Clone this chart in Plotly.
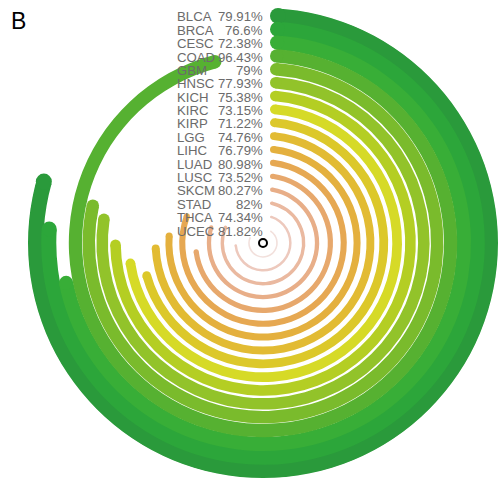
import math
import plotly.graph_objects as go

# ---- data ----
cancers = ["BLCA", "BRCA", "CESC", "COAD", "GBM", "HNSC", "KICH", "KIRC", "KIRP",
           "LGG", "LIHC", "LUAD", "LUSC", "SKCM", "STAD", "THCA", "UCEC"]
percent = [79.91, 76.6, 72.38, 96.43, 79, 77.93, 75.38, 73.15, 71.22,
           74.76, 76.79, 80.98, 73.52, 80.27, 82, 74.34, 81.82]
percent_labels = ["79.91%", "76.6%", "72.38%", "96.43%", "79%", "77.93%", "75.38%",
                  "73.15%", "71.22%", "74.76%", "76.79%", "80.98%", "73.52%",
                  "80.27%", "82%", "74.34%", "81.82%"]

# ---- style ----
palette = ["#2a9a3b", "#2ca63a", "#38ae37", "#56b131", "#7abb2c", "#92c32a",
           "#b4ce23", "#d6da27", "#dcc82a", "#e2bb33", "#e4b03e", "#e6a852",
           "#e7a86c", "#e8ae88", "#eab9a0", "#edc9bd", "#f2e0dc"]

W, H = 498, 479
CX, CY = 263, 243          # centre in px (from left / top)
R = 235                    # polar radius in px (1 unit = 1 px)
n = len(cancers)

xdom = [(CX - R) / W, (CX + R) / W]
ydom = [(H - CY - R) / H, (H - CY + R) / H]

def ring_radius(i):
    return 14 + 13.35 * (n - 1 - i)

def ring_width(i):
    return 16 - 0.9 * i

def label_y(i):
    return 12 + 13.375 * (n - 1 - i)

fig = go.Figure()

for i, (name, v) in enumerate(zip(cancers, percent)):
    r = ring_radius(i)
    t = ring_width(i)
    start = math.degrees(math.asin(min(1.0, (7 + t / 2) / r)))
    end = v * 3.6 - math.degrees(t / 2 / r)
    fig.add_trace(go.Barpolar(
        r=[t], base=[r - t / 2], theta=[(start + end) / 2], width=[end - start],
        marker=dict(color=palette[i], line=dict(width=0)),
        hoverinfo="skip", showlegend=False))
    fig.add_trace(go.Scatterpolar(
        r=[r, r], theta=[start, end], mode="markers",
        marker=dict(size=t, color=palette[i], line=dict(width=0)),
        hoverinfo="skip", showlegend=False))

# centre ring
fig.add_trace(go.Scatterpolar(
    r=[0], theta=[0], mode="markers",
    marker=dict(size=8, color="white", line=dict(color="black", width=2)),
    hoverinfo="skip", showlegend=False))

# invisible cartesian overlay used for label placement
fig.add_trace(go.Scatter(x=[-R, R], y=[-R, R], mode="markers",
                         marker=dict(opacity=0), hoverinfo="skip", showlegend=False))

lab_font = dict(family="Liberation Sans, Arial, sans-serif", size=13.2, color="#6b6b6b")
for i, (name, pl) in enumerate(zip(cancers, percent_labels)):
    y = label_y(i)
    fig.add_annotation(x=-86, y=y, xref="x", yref="y", text=name, showarrow=False,
                       xanchor="left", yanchor="middle", font=lab_font,
                       borderpad=0, borderwidth=0)
    fig.add_annotation(x=0, y=y, xref="x", yref="y", text=pl, showarrow=False,
                       xanchor="right", yanchor="middle", font=lab_font,
                       borderpad=0, borderwidth=0)

fig.add_annotation(x=18 / W, y=1 - 21.5 / H, xref="paper", yref="paper", text="B",
                   showarrow=False, xanchor="center", yanchor="middle",
                   font=dict(family="Liberation Sans, Arial, sans-serif", size=23, color="black"))

fig.update_layout(
    width=W, height=H,
    margin=dict(l=0, r=0, t=0, b=0),
    paper_bgcolor="white", plot_bgcolor="rgba(0,0,0,0)",
    polar=dict(
        domain=dict(x=xdom, y=ydom),
        bgcolor="rgba(0,0,0,0)",
        hole=0,
        radialaxis=dict(range=[0, R], visible=False, showgrid=False),
        angularaxis=dict(direction="clockwise", rotation=90, visible=False,
                         showgrid=False, showline=False, ticks=""),
        barmode="overlay",
    ),
    xaxis=dict(domain=xdom, range=[-R, R], visible=False, fixedrange=True),
    yaxis=dict(domain=ydom, range=[-R, R], visible=False, fixedrange=True),
    showlegend=False,
)

fig.write_html("out.html",
               config={"displayModeBar": False},
               post_script="document.body.style.margin='0';"
                           "document.body.style.overflow='hidden';")
